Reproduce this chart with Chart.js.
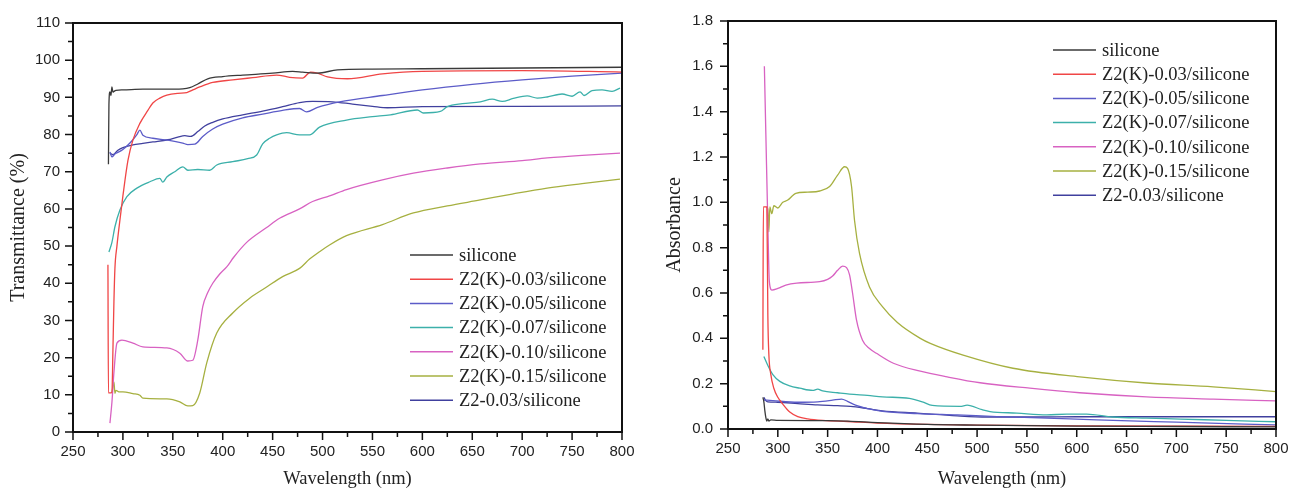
<!DOCTYPE html>
<html>
<head>
<meta charset="utf-8">
<title>UV-Vis spectra</title>
<script src="https://cdn.jsdelivr.net/npm/chart.js@4.4.1/dist/chart.umd.min.js"></script>
<style>
  html, body { margin: 0; padding: 0; background: #fff; }
  .panel { position: absolute; top: 0; }
  #left { left: 0; }
  #right { left: 645px; }
</style>
</head>
<body>
<div class="panel" id="left"><canvas id="transChart" width="645" height="489"></canvas></div>
<div class="panel" id="right"><canvas id="absChart" width="644" height="489"></canvas></div>
<script>
// series names and colours (same order in both plots)
const sampleNames = ["silicone", "Z2(K)-0.03/silicone", "Z2(K)-0.05/silicone", "Z2(K)-0.07/silicone",
  "Z2(K)-0.10/silicone", "Z2(K)-0.15/silicone", "Z2-0.03/silicone"];
const sampleColors = ["#3a3a3a", "#f04646", "#5c5cc8", "#3cb0aa", "#d862c2", "#a6b040", "#40409e"];

// x axis ticks (nm)
const waveTicks = [250, 300, 350, 400, 450, 500, 550, 600, 650, 700, 750, 800];

// ---- transmittance (%) ----
const tSiliconeNm = [285.5, 286, 287, 288, 289, 290, 291, 293, 300, 320, 340, 360, 367, 375, 385, 400, 420, 450, 470, 480, 495, 515, 550, 600, 700, 800];
const tSilicone = [72, 88, 91.5, 90.5, 92.8, 91.4, 91.6, 91.9, 92, 92.2, 92.2, 92.3, 92.6, 93.6, 95, 95.6, 96, 96.5, 97, 96.8, 96.5, 97.4, 97.6, 97.7, 97.9, 98.1];

const tZk03Nm = [285, 285.5, 289, 290, 291, 292, 294, 297, 300, 305, 310, 317, 325, 330, 337, 344, 355, 364, 370, 377, 390, 410, 430, 454, 467, 480, 488, 495, 505, 525, 560, 600, 700, 800];
const tZk03 = [45, 10.5, 10.6, 22, 35, 44, 50, 57, 63.5, 73, 78.5, 83, 86.5, 88.5, 89.8, 90.6, 91.1, 91.3, 92, 92.8, 94, 94.7, 95.3, 96, 95.4, 95.2, 96.8, 96.5, 95.5, 95, 96.3, 97, 97.2, 96.8];

const tZk05Nm = [287, 289, 292, 295, 300, 308, 314, 317, 320, 330, 345, 360, 365, 372, 380, 390, 400, 420, 440, 460, 477, 484, 495, 517, 560, 600, 650, 700, 750, 800];
const tZk05 = [75.3, 74, 74.8, 75.2, 76, 78, 80, 81.2, 79.8, 79, 78.5, 77.7, 77.3, 77.4, 79.5, 81.5, 82.8, 84.5, 85.5, 86.5, 87, 86.1, 87.3, 88.8, 90.5, 92, 93.5, 94.7, 95.7, 96.5];

const tZk07Nm = [286, 289, 292, 297, 304, 314, 327, 337, 340, 344, 352, 360, 365, 375, 387, 394, 410, 425, 434, 440, 447, 454, 464, 477, 487, 497, 524, 550, 568, 595, 601, 618, 625, 640, 658, 670, 680, 691, 705, 715, 725, 740, 750, 758, 762, 770, 780, 790, 798];
const tZk07 = [48.4, 51, 55.2, 59.7, 63.3, 65.6, 67.3, 68.2, 67.2, 68.6, 70, 71.3, 70.4, 70.6, 70.4, 71.8, 72.7, 73.5, 74.5, 77.5, 79, 79.9, 80.5, 79.9, 79.9, 82, 83.9, 84.8, 85.3, 86.6, 85.8, 86.2, 87.5, 88.3, 88.8, 89.5, 88.9, 89.7, 90.4, 89.8, 90.1, 90.9, 90.3, 91.5, 90.5, 91.8, 92, 91.6, 92.5];

const tZk10Nm = [287, 289, 291, 294, 299, 310, 320, 344, 357, 365, 370, 375, 380, 385, 390, 397, 404, 411, 424, 444, 457, 477, 490, 507, 524, 560, 591, 625, 658, 700, 725, 760, 798];
const tZk10 = [2.4, 8, 16, 23.9, 24.7, 23.9, 22.9, 22.6, 21.2, 19.1, 19.3, 24.7, 33.7, 37.5, 40, 42.5, 44.4, 47, 51, 55, 57.5, 60, 62, 63.5, 65.2, 67.8, 69.6, 71, 72.1, 73, 73.7, 74.4, 75];

const tZk15Nm = [289, 291, 292, 293, 296, 300, 310, 317, 320, 344, 357, 365, 370, 377, 384, 394, 410, 427, 444, 460, 477, 487, 497, 507, 524, 560, 591, 625, 658, 690, 725, 760, 798];
const tZk15 = [10.5, 13.5, 10.4, 11.2, 10.8, 10.8, 10.3, 9.9, 9.1, 8.9, 8.1, 7, 7.1, 10.5, 18.6, 26.6, 32, 36, 39, 41.8, 44, 46.5, 48.5, 50.3, 52.8, 55.8, 58.9, 60.8, 62.4, 64, 65.6, 66.8, 68];

const tZ03Nm = [287, 290, 295, 300, 310, 320, 330, 345, 355, 362, 368, 375, 382, 390, 400, 420, 440, 460, 477, 490, 510, 530, 550, 565, 600, 700, 800];
const tZ03 = [75, 74.6, 75.8, 76.5, 77.2, 77.6, 78, 78.6, 79.3, 79.7, 79.5, 80.8, 82.3, 83.3, 84.2, 85.3, 86.3, 87.5, 88.6, 88.9, 88.8, 88.2, 87.6, 87.2, 87.5, 87.6, 87.7];

// ---- absorbance ----
const aSiliconeNm = [285, 286, 287, 288, 289, 290, 291, 293, 300, 350, 370, 400, 450, 500, 600, 700, 800];
const aSilicone = [0.14, 0.12, 0.08, 0.05, 0.035, 0.045, 0.035, 0.04, 0.038, 0.037, 0.035, 0.028, 0.02, 0.017, 0.013, 0.011, 0.009];

const aZk03Nm = [285, 285.5, 289, 290, 291, 293, 296, 300, 305, 312, 320, 330, 345, 370, 400, 450, 500, 600, 800];
const aZk03 = [0.35, 0.98, 0.98, 0.5, 0.33, 0.24, 0.18, 0.14, 0.11, 0.075, 0.055, 0.045, 0.038, 0.033, 0.026, 0.02, 0.017, 0.014, 0.012];

const aZk05Nm = [286, 295, 320, 340, 355, 364, 370, 378, 390, 405, 440, 480, 520, 570, 620, 700, 800];
const aZk05 = [0.128, 0.125, 0.118, 0.12, 0.127, 0.132, 0.122, 0.105, 0.09, 0.078, 0.068, 0.062, 0.055, 0.048, 0.04, 0.03, 0.018];

const aZk07Nm = [286, 290, 295, 302, 312, 322, 335, 340, 345, 360, 372, 390, 405, 432, 445, 455, 483, 490, 505, 513, 540, 570, 590, 610, 636, 670, 704, 750, 800];
const aZk07 = [0.32, 0.28, 0.24, 0.21, 0.19, 0.18, 0.17, 0.176, 0.168, 0.16, 0.154, 0.148, 0.142, 0.135, 0.12, 0.104, 0.1, 0.105, 0.085, 0.077, 0.07, 0.062, 0.066, 0.066, 0.053, 0.048, 0.044, 0.038, 0.032];

const aZk10Nm = [286.5, 288, 290, 291.5, 294, 300, 308, 319, 342, 350, 355, 360, 365, 369, 372, 375, 379, 385, 392, 399, 416, 443, 470, 503, 553, 603, 670, 737, 800];
const aZk10 = [1.6, 1.3, 0.9, 0.65, 0.613, 0.62, 0.635, 0.644, 0.65, 0.66, 0.675, 0.7, 0.719, 0.712, 0.68, 0.6, 0.48, 0.392, 0.355, 0.334, 0.29, 0.255, 0.23, 0.204, 0.18, 0.16, 0.142, 0.132, 0.124];

const aZk15Nm = [289, 290, 291, 292, 294, 296, 300, 305, 310, 315, 318, 330, 342, 352, 360, 367, 370, 374, 377, 382, 392, 405, 420, 443, 453, 486, 536, 603, 670, 737, 800];
const aZk15 = [0.98, 0.97, 0.87, 0.98, 0.95, 0.985, 0.975, 1.0, 1.01, 1.03, 1.04, 1.045, 1.05, 1.07, 1.12, 1.157, 1.15, 1.07, 0.92, 0.775, 0.627, 0.54, 0.47, 0.4, 0.378, 0.326, 0.268, 0.23, 0.203, 0.186, 0.165];

const aZ03Nm = [286, 288, 290, 300, 320, 340, 360, 373, 390, 405, 440, 480, 510, 560, 600, 700, 800];
const aZ03 = [0.14, 0.125, 0.12, 0.118, 0.112, 0.106, 0.103, 0.1, 0.09, 0.08, 0.07, 0.058, 0.053, 0.053, 0.054, 0.054, 0.054];

// zip wavelength + value into {x, y}
function pts(nm, vals) {
  return nm.map((x, i) => ({ x: x, y: vals[i] }));
}

function buildSets(list) {
  return list.map((s, i) => ({
    label: sampleNames[i],
    data: pts(s[0], s[1]),
    borderColor: sampleColors[i],
    borderWidth: 1.3,
    pointRadius: 0,
    fill: false,
    cubicInterpolationMode: "monotone",
  }));
}

// box frame, outward major/minor ticks and the line legend
const frameTicksLegend = {
  id: "frameTicksLegend",
  afterDraw(chart, args, opts) {
    const ctx = chart.ctx;
    const a = chart.chartArea;
    const xs = chart.scales.x, ys = chart.scales.y;
    ctx.save();
    ctx.strokeStyle = "#111";
    ctx.lineWidth = 2;
    ctx.strokeRect(a.left, a.top, a.right - a.left, a.bottom - a.top);

    ctx.lineWidth = 1.5;
    ctx.beginPath();
    const xv = xs.ticks.map((t) => t.value);
    xv.forEach((v, i) => {
      const px = xs.getPixelForValue(v);
      ctx.moveTo(px, a.bottom);
      ctx.lineTo(px, a.bottom + 8);
      if (i < xv.length - 1) {
        const mx = xs.getPixelForValue((v + xv[i + 1]) / 2);
        ctx.moveTo(mx, a.bottom);
        ctx.lineTo(mx, a.bottom + 5);
      }
    });
    const yv = ys.ticks.map((t) => t.value);
    yv.forEach((v, i) => {
      const py = ys.getPixelForValue(v);
      ctx.moveTo(a.left, py);
      ctx.lineTo(a.left - 8, py);
      if (i < yv.length - 1) {
        const my = ys.getPixelForValue((v + yv[i + 1]) / 2);
        ctx.moveTo(a.left, my);
        ctx.lineTo(a.left - 5, my);
      }
    });
    ctx.stroke();

    // legend
    ctx.font = "18.5px 'Liberation Serif'";
    ctx.textBaseline = "middle";
    ctx.textAlign = "left";
    chart.data.datasets.forEach((ds, i) => {
      const y = opts.y + i * 24.2;
      ctx.strokeStyle = ds.borderColor;
      ctx.lineWidth = 1.5;
      ctx.beginPath();
      ctx.moveTo(opts.x, y);
      ctx.lineTo(opts.x + 43, y);
      ctx.stroke();
      ctx.fillStyle = "#222";
      ctx.fillText(ds.label, opts.x + 49, y + 1);
    });
    ctx.restore();
  },
};

// label offsets go through tickLength (grid hidden) so they don't widen the chart padding
function makeChart(id, datasets, yCfg, pad, legendPos) {
  const ctx = document.getElementById(id).getContext("2d");
  return new Chart(ctx, {
    type: "line",
    data: { datasets: datasets },
    plugins: [frameTicksLegend],
    options: {
      responsive: false,
      animation: false,
      events: [],
      layout: { padding: pad },
      plugins: {
        legend: { display: false },
        tooltip: { enabled: false },
        frameTicksLegend: legendPos,
      },
      scales: {
        x: {
          type: "linear",
          min: 250,
          max: 800,
          afterBuildTicks: (s) => { s.ticks = waveTicks.map((v) => ({ value: v })); },
          afterFit: (s) => { s.height = yCfg.xHeight; },
          grid: { display: false, drawTicks: true, tickLength: 11 },
          border: { display: false },
          ticks: {
            autoSkip: false,
            maxRotation: 0,
            padding: 0,
            color: "#222",
            font: { family: "'Liberation Sans'", size: 15 },
          },
          title: {
            display: true,
            text: "Wavelength (nm)",
            color: "#222",
            font: { family: "'Liberation Serif'", size: 18.5, lineHeight: 1 },
            padding: { top: 0, bottom: 1 },
          },
        },
        y: {
          min: yCfg.min,
          max: yCfg.max,
          afterBuildTicks: (s) => { s.ticks = yCfg.ticks.map((v) => ({ value: v })); },
          afterFit: (s) => { s.width = yCfg.width; },
          grid: { display: false, drawTicks: true, tickLength: yCfg.labelPad },
          border: { display: false },
          ticks: {
            padding: 0,
            color: "#222",
            font: { family: "'Liberation Sans'", size: 15 },
            callback: yCfg.fmt,
          },
          title: {
            display: true,
            text: yCfg.title,
            color: "#222",
            font: { family: "'Liberation Serif'", size: 20, lineHeight: 1 },
            padding: { top: yCfg.titlePad, bottom: 0 },
          },
        },
      },
    },
  });
}

const transTicks = [0, 10, 20, 30, 40, 50, 60, 70, 80, 90, 100, 110];
const absTicks = [0, 0.2, 0.4, 0.6, 0.8, 1.0, 1.2, 1.4, 1.6, 1.8];

makeChart("transChart",
  buildSets([[tSiliconeNm, tSilicone], [tZk03Nm, tZk03], [tZk05Nm, tZk05], [tZk07Nm, tZk07],
    [tZk10Nm, tZk10], [tZk15Nm, tZk15], [tZ03Nm, tZ03]]),
  { min: 0, max: 110, ticks: transTicks, width: 73, xHeight: 57, labelPad: 13, titlePad: 9,
    title: "Transmittance (%)", fmt: (v) => v },
  { top: 23, right: 23, left: 0, bottom: 0 },
  { x: 410, y: 255 });

makeChart("absChart",
  buildSets([[aSiliconeNm, aSilicone], [aZk03Nm, aZk03], [aZk05Nm, aZk05], [aZk07Nm, aZk07],
    [aZk10Nm, aZk10], [aZk15Nm, aZk15], [aZ03Nm, aZ03]]),
  { min: 0, max: 1.8, ticks: absTicks, width: 83, xHeight: 60, labelPad: 15, titlePad: 20,
    title: "Absorbance", fmt: (v) => Number(v).toFixed(1) },
  { top: 21, right: 13, left: 0, bottom: 0 },
  { x: 408, y: 50 });
</script>
</body>
</html>
